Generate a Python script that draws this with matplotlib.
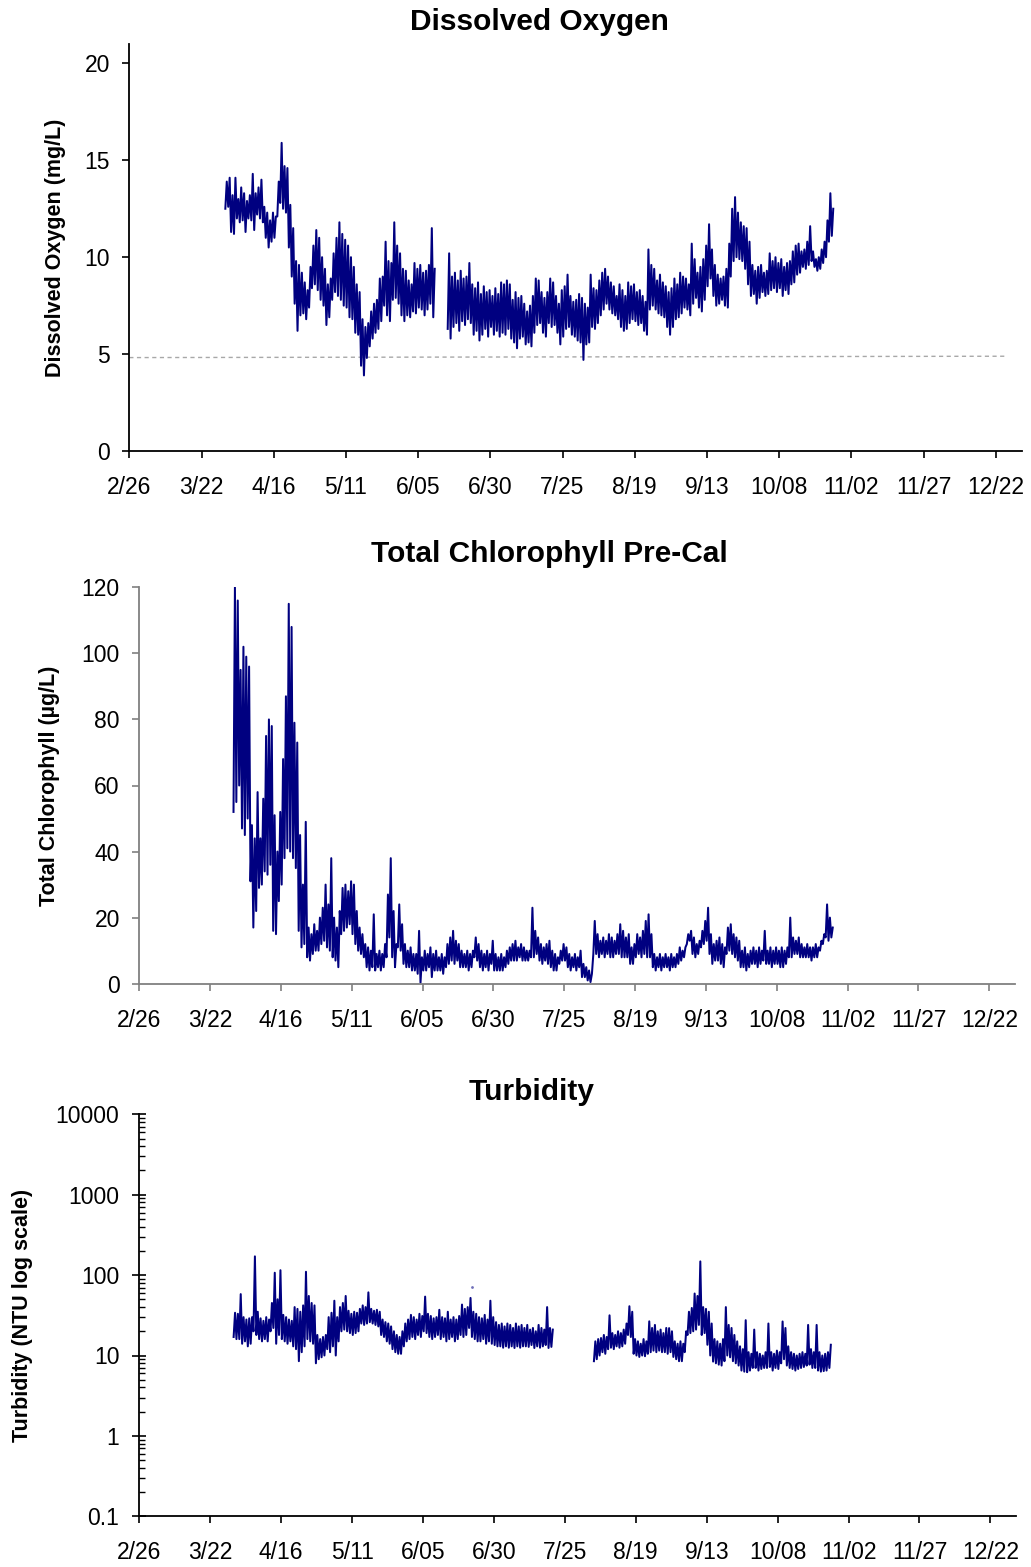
import matplotlib
matplotlib.use("Agg")
import matplotlib.pyplot as plt
from matplotlib.ticker import FixedLocator, FixedFormatter, LogLocator, NullFormatter

plt.rcParams['font.family'] = ['Liberation Sans', 'DejaVu Sans']

# ---------------- data (day offsets from 2/26, leap year) ----------------
x_tick_days = [0, 25, 50, 75, 100, 125, 150, 175, 200, 225, 250, 275, 300]
x_tick_labels = ['2/26', '3/22', '4/16', '5/11', '6/05', '6/30', '7/25',
                 '8/19', '9/13', '10/08', '11/02', '11/27', '12/22']

# Dissolved oxygen, daily high / low (mg/L)
do1_start = 33
do1_hi = [13.9, 14.1, 13.2, 14.1, 13.0, 13.6, 13.3, 12.9, 13.2, 14.3, 13.3, 13.6, 14.0,
          12.6, 12.3, 11.9, 12.3, 12.1, 13.9, 15.9, 14.7, 14.6, 12.7, 11.5, 9.8, 9.6,
          9.2, 8.7, 8.3, 9.5, 10.6, 11.4, 11.0, 10.0, 9.4, 8.6, 8.9, 10.2, 11.0, 11.8,
          11.2, 10.9, 10.6, 10.0, 9.5, 8.6, 8.2, 6.8, 6.4, 6.6, 7.2, 7.6, 7.8, 8.9, 9.0,
          10.8, 9.8, 9.7, 11.8, 10.6, 10.2, 9.4, 9.3, 8.8, 8.6, 9.7, 9.4, 9.6, 9.2, 9.3,
          9.6, 11.5, 9.4]
do1_lo = [12.5, 12.6, 11.3, 11.2, 12.0, 11.8, 11.9, 11.3, 12.0, 11.9, 11.4, 12.2, 12.0,
          11.8, 11.0, 10.5, 10.8, 11.0, 12.1, 12.8, 12.5, 12.3, 10.5, 9.0, 7.6, 6.2,
          7.0, 7.1, 6.8, 7.4, 8.4, 8.6, 8.3, 7.8, 7.5, 6.5, 6.9, 7.8, 8.2, 8.0, 7.8, 7.5,
          7.4, 6.9, 6.8, 6.1, 6.0, 4.4, 3.9, 4.8, 5.4, 5.8, 6.1, 6.3, 6.7, 7.5, 7.0, 6.7,
          7.8, 7.9, 7.6, 7.0, 6.7, 7.0, 6.9, 7.2, 7.1, 7.4, 7.3, 7.0, 7.3, 7.6, 6.9]
do2_start = 110
do2_hi = [10.2, 9.0, 9.2, 8.8, 9.3, 8.9, 9.0, 9.7, 8.6, 8.4, 8.7, 8.1, 8.5, 8.2, 8.3, 8.0,
          8.4, 8.1, 8.7, 8.6, 8.8, 8.6, 7.8, 8.2, 7.9, 8.0, 7.6, 7.2, 7.5, 8.0, 8.9, 8.8,
          8.2, 7.9, 8.2, 8.9, 8.7, 8.0, 7.6, 8.3, 8.5, 9.1, 8.0, 7.7, 7.8, 8.1, 7.9, 7.6,
          7.4, 9.1, 8.4, 8.3, 8.8, 9.2, 9.4, 9.0, 8.7, 8.5, 8.0, 8.6, 8.3, 8.0, 8.7, 8.5,
          8.6, 8.2, 8.3, 8.0, 7.7, 10.4, 9.6, 9.4, 8.8, 9.1, 8.7, 8.5, 8.2, 8.4, 8.9, 8.6,
          9.2, 9.0, 8.9, 8.6, 10.7, 9.9, 9.2, 9.5, 9.9, 10.6, 11.7, 10.4, 9.6, 9.1, 8.9,
          9.0, 9.4, 10.7, 12.5, 13.1, 12.3, 11.8, 11.6, 11.5, 10.8, 9.6, 9.3, 9.5, 9.6,
          9.2, 9.3, 10.2, 9.8, 10.0, 9.7, 9.9, 9.5, 9.7, 9.8, 10.3, 10.6, 10.7, 10.3, 10.4,
          10.8, 11.6, 10.3, 9.9, 10.0, 10.4, 10.8, 11.9, 13.3, 12.5]
do2_lo = [6.3, 5.8, 6.4, 6.6, 6.2, 6.7, 6.5, 6.8, 6.6, 6.0, 6.2, 5.7, 6.0, 6.3, 5.9, 6.4,
          6.0, 6.2, 5.9, 6.1, 6.0, 6.3, 5.8, 5.6, 5.3, 5.8, 5.9, 5.5, 5.6, 5.4, 6.1, 6.5,
          6.6, 6.1, 5.9, 6.6, 6.4, 6.5, 6.1, 5.5, 5.9, 6.3, 6.4, 6.0, 5.9, 5.7, 5.6, 4.7,
          5.5, 5.6, 6.4, 6.3, 6.6, 7.0, 7.3, 7.6, 7.3, 7.1, 7.0, 6.8, 6.4, 6.2, 6.3, 6.6,
          6.8, 6.7, 6.5, 6.6, 6.2, 6.0, 7.3, 7.5, 7.3, 7.1, 7.0, 6.9, 6.4, 6.0, 6.4, 6.8,
          6.9, 7.1, 7.4, 7.3, 7.0, 7.6, 7.9, 7.4, 7.2, 7.8, 8.5, 8.9, 8.0, 7.5, 7.6, 7.8,
          7.5, 7.4, 9.0, 9.8, 10.0, 9.9, 9.8, 9.4, 8.6, 8.0, 8.1, 7.6, 7.9, 8.2, 8.0, 8.1,
          8.3, 8.4, 8.2, 8.4, 8.0, 8.3, 8.1, 8.6, 8.7, 9.1, 9.2, 9.5, 9.4, 9.6, 9.8, 9.5,
          9.3, 9.4, 9.7, 10.0, 10.8, 11.1]
do_ref_days = [0, 304]
do_ref_vals = [4.82, 4.89]

# Total chlorophyll, daily high / low (ug/L)
chl_start = 33
chl_hi = [120, 116, 95, 102, 99, 96, 48, 44, 58, 44, 56, 75, 80, 78, 51, 40, 52, 68, 87,
          115, 108, 79, 73, 45, 30, 49, 17, 15, 18, 16, 20, 23, 30, 24, 38, 20, 17, 22,
          29, 30, 28, 31, 30, 22, 17, 15, 12, 11, 10, 21, 9, 10, 9, 12, 27, 38, 22, 12,
          24, 18, 12, 10, 11, 9, 9, 16, 8, 10, 9, 11, 9, 10, 8, 9, 8, 12, 14, 16, 13, 12,
          10, 9, 10, 9, 10, 14, 12, 10, 9, 10, 9, 13, 9, 8, 9, 8, 10, 11, 12, 13, 11, 12,
          11, 10, 10, 23, 16, 14, 12, 11, 12, 13, 10, 9, 8, 10, 12, 11, 9, 8, 9, 8, 10,
          6, 5, 4, 3, 19, 15, 13, 14, 13, 15, 14, 13, 15, 18, 16, 14, 15, 11, 12, 15, 14,
          16, 19, 21, 15, 9, 8, 9, 8, 9, 8, 9, 8, 9, 11, 10, 11, 15, 16, 14, 12, 13, 16,
          19, 23, 15, 12, 13, 14, 12, 11, 17, 18, 15, 14, 13, 10, 11, 9, 10, 11, 10, 11,
          10, 16, 10, 11, 10, 11, 10, 11, 10, 11, 20, 14, 13, 14, 12, 11, 12, 11, 11, 12,
          11, 13, 15, 24, 20, 17]
chl_lo = [52, 55, 60, 47, 45, 50, 31, 17, 22, 29, 30, 34, 33, 36, 16, 15, 25, 30, 38,
          41, 40, 38, 35, 16, 11, 12, 8, 7, 9, 10, 10, 12, 13, 11, 10, 8, 7, 5, 15, 16,
          17, 18, 15, 12, 10, 9, 8, 5, 4, 5, 4, 5, 4, 5, 8, 14, 8, 5, 11, 10, 6, 5, 5, 4,
          4, 3, 0.3, 4, 4, 5, 2, 4, 4, 4, 3, 5, 6, 7, 6, 7, 5, 5, 5, 4, 5, 8, 7, 5, 4, 5,
          4, 6, 4, 4, 4, 4, 5, 6, 7, 7, 7, 8, 7, 7, 7, 8, 8, 9, 7, 6, 7, 6, 5, 4, 4, 6, 7,
          7, 5, 4, 5, 4, 5, 2, 2, 1, 0.5, 9, 9, 8, 9, 8, 9, 8, 8, 9, 9, 8, 8, 8, 6, 6, 8,
          9, 8, 9, 8, 8, 5, 4, 5, 4, 5, 5, 4, 5, 5, 6, 7, 8, 12, 13, 9, 8, 9, 11, 12, 13,
          9, 6, 7, 7, 6, 5, 9, 10, 9, 8, 7, 5, 5, 4, 5, 6, 6, 5, 6, 7, 6, 6, 5, 6, 6, 5,
          5, 6, 8, 8, 9, 9, 8, 8, 8, 8, 7, 8, 8, 10, 12, 14, 13, 14]

# Turbidity, daily high / low (NTU)
tb1_start = 33
tb1_hi = [34, 33, 58, 30, 28, 29, 30, 171, 35, 29, 27, 30, 28, 45, 107, 50, 115, 32, 30,
          28, 27, 40, 38, 35, 42, 110, 55, 45, 42, 18, 16, 17, 18, 30, 34, 48, 30, 40,
          45, 55, 36, 33, 35, 34, 38, 42, 40, 61, 38, 36, 37, 35, 28, 26, 25, 23, 20, 18,
          17, 20, 25, 28, 32, 30, 28, 33, 31, 54, 33, 31, 29, 30, 37, 30, 29, 35, 28, 30,
          28, 31, 43, 38, 40, 52, 35, 33, 30, 29, 32, 28, 48, 30, 26, 24, 25, 23, 25, 24,
          22, 25, 23, 24, 22, 24, 21, 22, 20, 24, 22, 21, 40, 22, 21]
tb1_lo = [17, 16, 16, 14, 15, 13, 14, 20, 18, 16, 15, 16, 15, 20, 22, 14, 18, 16, 15, 14,
          15, 13, 12, 8.5, 11, 13, 16, 15, 14, 8, 9, 9.5, 10, 12, 11, 13, 10, 15, 20, 21,
          20, 19, 18, 19, 20, 25, 24, 25, 26, 25, 24, 23, 18, 17, 15, 14, 12, 11, 10.5,
          10.5, 13, 15, 16, 17, 16, 18, 17, 20, 19, 17, 16, 17, 18, 16, 17, 15, 16, 17,
          15, 16, 18, 17, 18, 22, 17, 16, 15, 15, 16, 14, 15, 14, 13.5, 13, 13, 12.5, 13,
          12.5, 13, 12.4, 13, 12.5, 13, 13, 12.8, 13.5, 12.4, 13, 12.5, 13, 13.5, 12.4,
          12.8]
tb_dot_day = [117.2]
tb_dot_val = [72]
tb2_start = 160
tb2_hi = [15, 16, 16.5, 18, 17, 31.6, 19, 18, 20, 19, 21, 25, 41, 35, 16, 15, 14, 16, 15,
          26.6, 22, 24, 20, 21, 19, 22, 21.9, 20, 15, 14, 15, 14, 20, 35, 39, 59, 55, 148,
          40, 38, 35, 25, 16, 15, 14, 16, 40, 24, 22, 18, 15, 13, 12, 27.5, 11, 10.5, 21,
          11, 10.5, 10, 11, 25, 11, 10.5, 11.5, 11, 26.5, 22, 13, 11, 10.5, 10, 10.5, 11,
          10.5, 24, 12, 11, 24, 11, 10, 10.5, 11, 13.6]
tb2_lo = [8.5, 9, 10, 11, 10.5, 12, 12.5, 12, 13, 12.5, 13, 14, 18, 17, 10.5, 10, 9.6, 10,
          9.8, 10.5, 11, 11.5, 11, 11.5, 11, 11, 10.5, 11, 9.6, 9, 8.5, 8.5, 11, 18, 19,
          20, 21, 24, 18, 19, 13.6, 10, 8.4, 8, 7.7, 7.5, 8.5, 10, 9.5, 8.5, 8, 7.5, 6.5,
          6.3, 6.2, 6.5, 7, 7, 6.5, 6.8, 7, 7, 7.2, 6.5, 7, 6.8, 8, 9, 7.5, 7, 6.8, 6.5,
          6.8, 7, 7.2, 7.5, 7.7, 7, 7, 6.5, 6.3, 6.4, 6.5, 7]


def daily_trace(start, hi, lo):
    t, v = [], []
    for i, (h, l) in enumerate(zip(hi, lo)):
        d = start + i
        t += [d + 0.25, d + 0.75]
        v += [l, h]
    return t, v


# ---------------- layout ----------------
W, H = 1031, 1567
fig = plt.figure(figsize=(W / 100, H / 100), dpi=100)


def rect(l, t, r, b):
    return [l / W, 1 - b / H, (r - l) / W, (b - t) / H]


XMAX = 309
LINE = '#000080'
LW = 1.45
TICK_FS = 16.5


def style(ax, col):
    for s in ('top', 'right'):
        ax.spines[s].set_visible(False)
    for s in ('left', 'bottom'):
        ax.spines[s].set_color(col)
        ax.spines[s].set_linewidth(1.3)
    ax.set_xlim(0, XMAX)
    ax.xaxis.set_major_locator(FixedLocator(x_tick_days))
    ax.xaxis.set_major_formatter(FixedFormatter(x_tick_labels))
    ax.tick_params(axis='x', direction='out', length=5, width=1.2, color=col,
                   labelsize=TICK_FS, pad=13, labelcolor='black')
    ax.tick_params(axis='y', direction='out', length=5, width=1.2, color=col,
                   labelsize=TICK_FS, pad=9, labelcolor='black')


# Panel 1: Dissolved oxygen
ax1 = fig.add_axes(rect(129.3, 44, 129.3 + XMAX * 2.888, 451))
style(ax1, 'black')
ax1.set_ylim(0, 21)
ax1.set_yticks([0, 5, 10, 15, 20])
ax1.plot(do_ref_days, do_ref_vals, color='#a8a8a8', lw=1.0, ls=(0, (3, 2.5)))
for st, hi, lo in ((do1_start, do1_hi, do1_lo), (do2_start, do2_hi, do2_lo)):
    t, v = daily_trace(st, hi, lo)
    ax1.plot(t, v, color=LINE, lw=LW)

# Panel 2: Chlorophyll
ax2 = fig.add_axes(rect(139.3, 587.3, 139.3 + XMAX * 2.8333, 983.7))
style(ax2, '#808080')
ax2.set_ylim(0, 120)
ax2.set_yticks([0, 20, 40, 60, 80, 100, 120])
t, v = daily_trace(chl_start, chl_hi, chl_lo)
ax2.plot(t, v, color=LINE, lw=LW)

# Panel 3: Turbidity
ax3 = fig.add_axes(rect(139.3, 1114.3, 139.3 + XMAX * 2.837, 1516.3))
style(ax3, 'black')
ax3.set_yscale('log')
ax3.set_ylim(0.1, 10000)
ax3.yaxis.set_major_locator(FixedLocator([0.1, 1, 10, 100, 1000, 10000]))
ax3.yaxis.set_major_formatter(FixedFormatter(['0.1', '1', '10', '100', '1000', '10000']))
ax3.yaxis.set_minor_locator(LogLocator(base=10, subs=range(2, 10)))
ax3.yaxis.set_minor_formatter(NullFormatter())
ax3.tick_params(axis='y', which='major', direction='inout', length=9.5, pad=9.6)
ax3.tick_params(axis='y', which='minor', direction='in', length=4.5, width=1.0, color='black')
for st, hi, lo in ((tb1_start, tb1_hi, tb1_lo), (tb2_start, tb2_hi, tb2_lo)):
    t, v = daily_trace(st, hi, lo)
    ax3.plot(t, v, color=LINE, lw=LW)
ax3.plot(tb_dot_day, tb_dot_val, 'o', color='#6f6fb8', ms=2.0, mew=0)

# Titles and axis labels
TITLE_FS = 21.5
fig.text(539 / W, 1 - 30 / H, 'Dissolved Oxygen', ha='center', va='baseline',
         fontsize=TITLE_FS, fontweight='bold')
fig.text(549 / W, 1 - 562.3 / H, 'Total Chlorophyll Pre-Cal', ha='center', va='baseline',
         fontsize=TITLE_FS, fontweight='bold')
fig.text(531.5 / W, 1 - 1100 / H, 'Turbidity', ha='center', va='baseline',
         fontsize=TITLE_FS, fontweight='bold')

LAB_FS = 15.5
fig.text(55 / W, 1 - 247.5 / H, 'Dissolved Oxygen (mg/L)', rotation=90, ha='center',
         va='center', fontsize=LAB_FS, fontweight='bold')
fig.text(50 / W, 1 - 786 / H, 'Total Chlorophyll (µg/L)', rotation=90, ha='center',
         va='center', fontsize=LAB_FS, fontweight='bold')
fig.text(22.7 / W, 1 - 1315 / H, 'Turbidity (NTU log scale)', rotation=90, ha='center',
         va='center', fontsize=LAB_FS, fontweight='bold')

fig.savefig('out.png', dpi=100)
